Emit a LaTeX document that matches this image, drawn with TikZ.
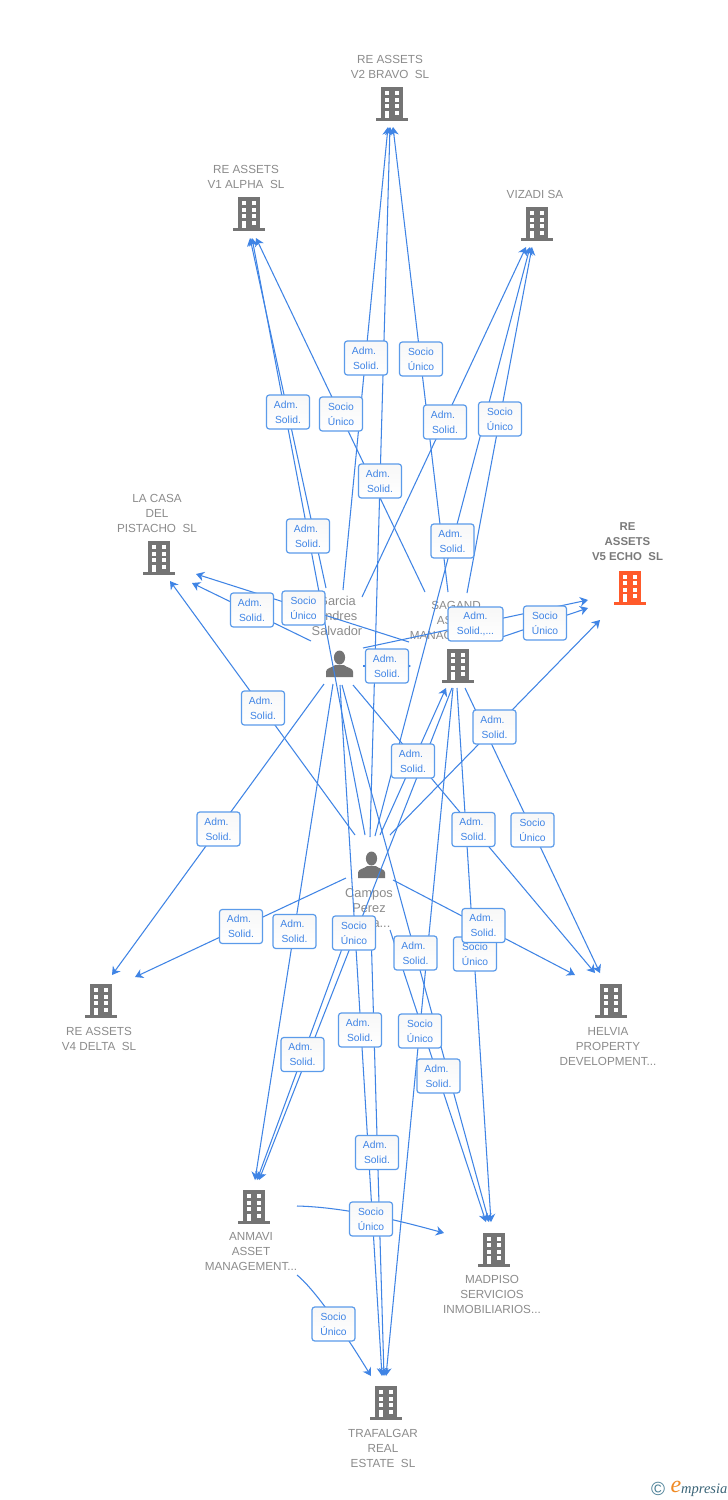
\documentclass[tikz,border=0pt]{standalone}
\usepackage{fontspec}
\setmainfont{Liberation Sans}
\newfontfamily\serifit{Liberation Serif}
\usetikzlibrary{arrows.meta}
\definecolor{edgeblue}{HTML}{3F84E5}
\definecolor{boxblue}{HTML}{5B9BEA}
\definecolor{lblblue}{HTML}{3F84E5}
\definecolor{iconfill}{HTML}{747474}
\definecolor{focus}{HTML}{FF5A2B}
\definecolor{nametext}{HTML}{8C8C8C}
\definecolor{logoblue}{HTML}{4A7F96}
\definecolor{logoorange}{HTML}{F08A24}
\newcommand{\admsol}{Adm.\hspace*{4pt}\\Solid.}
\newcommand{\socuni}{Socio\\Único}
\tikzset{
  edge/.style={draw=edgeblue,line width=1.05pt,-{Stealth[length=8pt,width=9.5pt,inset=2.5pt]}},
  tagbox/.style={draw=boxblue,line width=1.2pt,rounded corners=2.8pt,top color=black!3,bottom color=white,
    minimum width=43pt,minimum height=34pt,inner sep=0pt,align=center,text=lblblue,
    font=\fontsize{10.3}{15}\selectfont},
  cname/.style={align=center,inner sep=0pt,yshift=-1pt,text=nametext,font=\fontsize{11.7}{15}\selectfont},
  pname/.style={align=center,inner sep=0pt,text=nametext,font=\fontsize{12.8}{15}\selectfont},
  iconspot/.style={minimum width=30pt,minimum height=30pt,inner sep=0pt},
  pics/bldg/.style={code={
    \fill[#1] (-11,-17) rectangle (11,14);
    \fill[#1] (-16,14) rectangle (16,17);
    \foreach \yy in {-13,-6.5,0}{
      \fill[white] (-7,\yy) rectangle (-2.6,\yy+4);
      \fill[white] (3,\yy) rectangle (7.4,\yy+4);
    }
    \fill[white] (-7,6.5) rectangle (-2.6,14);
    \fill[white] (3,6.5) rectangle (7.4,10.5);
  }},
  pics/person/.style={code={
    \fill[iconfill] (0,-6.5) ellipse (5.6 and 7);
    \fill[iconfill] (-13.5,13) -- (-13.5,7.5) .. controls (-13.5,4) and (-7,3.5) .. (-4.2,1)
      -- (4.2,1) .. controls (7,3.5) and (13.5,4) .. (13.5,7.5) -- (13.5,13) -- cycle;
  }}
}
\begin{document}
\begin{tikzpicture}[x=1pt,y=-1pt]
\useasboundingbox (0,0) rectangle (728,1500);
\fill[white] (0,0) rectangle (728,1500);

% entities
\node[iconspot] (v2) at (392,104) {};      \pic at (v2) {bldg=iconfill};
\node[iconspot] (v1) at (248.5,214) {};    \pic at (v1) {bldg=iconfill};
\node[iconspot] (viz) at (537,224) {};     \pic at (viz) {bldg=iconfill};
\node[iconspot] (casa) at (159,558) {};    \pic at (casa) {bldg=iconfill};
\node[iconspot] (v5) at (629.5,587.5) {};  \pic at (v5) {bldg=focus};
\node[iconspot] (sag) at (458,665.5) {};   \pic at (sag) {bldg=iconfill};
\node[iconspot] (v4) at (101,1001) {};     \pic at (v4) {bldg=iconfill};
\node[iconspot] (hel) at (611,1001) {};    \pic at (hel) {bldg=iconfill};
\node[iconspot] (anm) at (254,1207) {};    \pic at (anm) {bldg=iconfill};
\node[iconspot] (mad) at (494,1249.5) {};  \pic at (mad) {bldg=iconfill};
\node[iconspot] (tra) at (385.5,1403) {};  \pic at (tra) {bldg=iconfill};
\node[iconspot] (gar) at (339.5,664) {};   \pic at (gar) {person};
\node[iconspot] (cam) at (371.5,865) {};   \pic at (cam) {person};

\node[cname] (v2n) at (390,65.5) {RE ASSETS\\V2 BRAVO\ \ SL};
\node[cname] (v1n) at (246,175.5) {RE ASSETS\\V1 ALPHA\ \ SL};
\node[cname] (vizn) at (535,193) {VIZADI SA};
\node[cname] (casan) at (157,512) {LA CASA\\DEL\\PISTACHO\ \ SL};
\node[cname,text=black!52,font=\fontsize{11.4}{15}\selectfont\bfseries] (v5n) at (627.5,541) {RE\\ASSETS\\V5 ECHO\ \ SL};
\node[cname] (sagn) at (456,619) {SAGAND\\ASSET\\MANAGEMENT...};
\node[cname] (v4n) at (99,1037.5) {RE ASSETS\\V4 DELTA\ \ SL};
\node[cname] (heln) at (608,1046) {HELVIA\\PROPERTY\\DEVELOPMENT...};
\node[cname] (anmn) at (251,1251) {ANMAVI\\ASSET\\MANAGEMENT...};
\node[cname] (madn) at (492,1293) {MADPISO\\SERVICIOS\\INMOBILIARIOS...};
\node[cname] (tran) at (383,1447) {TRAFALGAR\\REAL\\ESTATE\ \ SL};
\node[pname] (garn) at (337,616) {Garcia\\Andres\\Salvador};
\node[pname] (camn) at (369,908) {Campos\\Perez\\\hphantom{Mari}a...};

% connector ends
\coordinate (gV2s) at (343,590);   \coordinate (V2a) at (388,127);
\coordinate (sV2s) at (448,592);   \coordinate (V2c) at (393,127);
\coordinate (cV2s) at (370,837);   \coordinate (V2b) at (390,127);
\coordinate (gV1s) at (326,588);   \coordinate (V1a) at (250,238);
\coordinate (cV1s) at (365,835);   \coordinate (V1b) at (252,238);
\coordinate (sV1s) at (425,592);   \coordinate (V1c) at (256,238);
\coordinate (gVzs) at (362,597);   \coordinate (Vza) at (526,247);
\coordinate (sVzs) at (467,593);   \coordinate (Vzc) at (532,247);
\coordinate (cVzs) at (375,836);   \coordinate (Vzb) at (530,247);
\coordinate (cLCs) at (355,835);   \coordinate (LCa) at (170,581);
\coordinate (gLCs) at (311,641);   \coordinate (LCb) at (192,583);
\coordinate (sLCs) at (409,642);   \coordinate (LCc) at (196,574);
\coordinate (gV5s) at (363,648);   \coordinate (V5a) at (588,600);
\coordinate (sV5s) at (502,637);   \coordinate (V5b) at (588,608);
\coordinate (cV5s) at (390,835);   \coordinate (V5c) at (600,620);
\coordinate (gSGs) at (363,666);   \coordinate (SGa) at (411,666);
\coordinate (cSGs) at (380,835);   \coordinate (SGb) at (446,688);
\coordinate (gV4s) at (324,684);   \coordinate (V4a) at (112,975);
\coordinate (cV4s) at (346,878);   \coordinate (V4b) at (135,977);
\coordinate (gHLs) at (353,685);   \coordinate (HLb) at (595,973);
\coordinate (sHLs) at (465,688);   \coordinate (HLc) at (600,973);
\coordinate (cHLs) at (393,880);   \coordinate (HLa) at (575,975);
\coordinate (gANs) at (333,684);   \coordinate (ANa) at (255,1180);
\coordinate (cANs) at (350,927);   \coordinate (ANb) at (257,1180);
\coordinate (sANs) at (452,688);   \coordinate (ANc) at (259,1180);
\coordinate (gMDs) at (342,685);   \coordinate (MDb) at (489,1222);
\coordinate (cMDs) at (390,930);   \coordinate (MDa) at (486,1222);
\coordinate (sMDs) at (457,688);   \coordinate (MDc) at (491,1222);
\coordinate (gTRs) at (340,685);   \coordinate (TRa) at (382,1376);
\coordinate (cTRs) at (371,930);   \coordinate (TRb) at (384,1376);
\coordinate (sTRs) at (453,688);   \coordinate (TRc) at (386,1376);
\coordinate (aMDs) at (297,1206);  \coordinate (MDd) at (444,1233);
\coordinate (aTRs) at (297,1275);  \coordinate (TRd) at (371,1376);

% connectors
\draw[edge] (gV2s) -- (V2a);
\draw[edge] (sV2s) -- (V2c);
\draw[edge] (cV2s) -- (V2b);
\draw[edge] (gV1s) -- (V1a);
\draw[edge] (cV1s) -- (V1b);
\draw[edge] (sV1s) -- (V1c);
\draw[edge] (gVzs) -- (Vza);
\draw[edge] (sVzs) -- (Vzc);
\draw[edge] (cVzs) -- (Vzb);
\draw[edge] (cLCs) -- (LCa);
\draw[edge] (gLCs) -- (LCb);
\draw[edge] (sLCs) -- (LCc);
\draw[edge] (gV5s) -- (V5a);
\draw[edge] (sV5s) -- (V5b);
\draw[edge] (cV5s) -- (V5c);
\draw[edge] (gSGs) -- (SGa);
\draw[edge] (cSGs) -- (SGb);
\draw[edge] (gV4s) -- (V4a);
\draw[edge] (cV4s) -- (V4b);
\draw[edge] (gHLs) -- (HLb);
\draw[edge] (sHLs) -- (HLc);
\draw[edge] (cHLs) -- (HLa);
\draw[edge] (gANs) -- (ANa);
\draw[edge] (cANs) -- (ANb);
\draw[edge] (sANs) -- (ANc);
\draw[edge] (gMDs) -- (MDb);
\draw[edge] (cMDs) -- (MDa);
\draw[edge] (sMDs) -- (MDc);
\draw[edge] (gTRs) -- (TRa);
\draw[edge] (cTRs) -- (TRb);
\draw[edge] (sTRs) -- (TRc);
\draw[edge] (aMDs) .. controls (340,1207) and (390,1218) .. (MDd);
\draw[edge] (aTRs) .. controls (312,1287) and (340,1325) .. (TRd);

% connector labels
\node[tagbox] (l01) at (366,358) {\admsol};
\node[tagbox] (l02) at (421,359) {\socuni};
\node[tagbox] (l03) at (288,412) {\admsol};
\node[tagbox] (l04) at (341,414) {\socuni};
\node[tagbox] (l05) at (445,422) {\admsol};
\node[tagbox] (l06) at (500,419) {\socuni};
\node[tagbox] (l07) at (380,481) {\admsol};
\node[tagbox] (l08) at (308,536) {\admsol};
\node[tagbox] (l09) at (452.5,541) {\admsol};
\node[tagbox] (l10) at (252,610) {\admsol};
\node[tagbox] (l11) at (303.5,608) {\socuni};
\node[tagbox,minimum width=55pt] (l12) at (475.5,624) {Adm.\\Solid.,...};
\node[tagbox] (l13) at (545,623) {\socuni};
\node[tagbox] (l14) at (387,666) {\admsol};
\node[tagbox] (l15) at (263,708) {\admsol};
\node[tagbox] (l16) at (494.5,727) {\admsol};
\node[tagbox] (l17) at (413,761) {\admsol};
\node[tagbox] (l18) at (218.5,829) {\admsol};
\node[tagbox] (l19) at (473.5,829.5) {\admsol};
\node[tagbox] (l20) at (532.5,830) {\socuni};
\node[tagbox] (l21) at (241,926.5) {\admsol};
\node[tagbox] (l22) at (294.5,931.5) {\admsol};
\node[tagbox] (l23) at (354,933) {\socuni};
\node[tagbox] (l25) at (415.5,953) {\admsol};
\node[tagbox] (l26) at (475,954) {\socuni};
\node[tagbox] (l24) at (483.5,925.5) {\admsol};
\node[tagbox] (l27) at (360,1030) {\admsol};
\node[tagbox] (l28) at (420,1031) {\socuni};
\node[tagbox] (l29) at (302.5,1054.5) {\admsol};
\node[tagbox] (l30) at (438.5,1076) {\admsol};
\node[tagbox] (l31) at (377,1152.5) {\admsol};
\node[tagbox] (l32) at (371,1219) {\socuni};
\node[tagbox] (l33) at (333.5,1324) {\socuni};

% footer mark
\node[inner sep=0pt,text=logoblue,font=\fontsize{19}{19}\selectfont] (copy) at (658,1488.5) {©};
\node[inner sep=0pt,text=logoorange,font=\serifit\itshape\fontsize{24}{24}\selectfont] (logoe) at (676,1487) {e};
\node[inner sep=0pt,anchor=west,text=logoblue!80!black,font=\serifit\itshape\fontsize{14.5}{14.5}\selectfont] (logot) at (681,1490) {mpresia};
\end{tikzpicture}
\end{document}
